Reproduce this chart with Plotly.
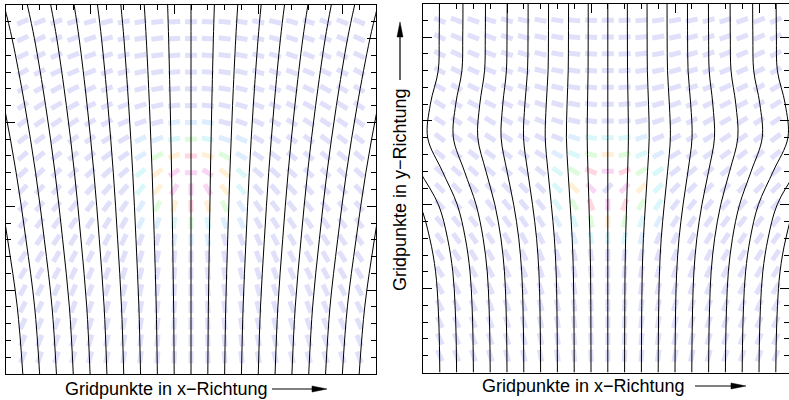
import math
import plotly.graph_objects as go

W, H = 789, 400

# ---------------- data ----------------
grid_pts = list(range(1, 22))          # grid points 1..21 (dash centres, line origins)
grid_max = 22

# left panel: singular point of the direction field, spread of the grid lines
left_singular = (11.0, 11.5)
left_center_x = 11.0
left_levels_y = [0, 4, 8, 12, 16, 20, 22]
left_spread = [0.0, 0.033, 0.09, 0.155, 0.235, 0.33, 0.39]
left_cubic = [0, 0, 0, 0, 0, 0, 0]

# right panel
right_singular = (11.0, 11.0)
right_center_x = 11.0
right_levels_y = [0, 2, 4, 6, 8, 10, 12, 14, 16, 18, 20, 22]
right_spread = [0.0, 0.003, 0.01, 0.025, 0.06, 0.12, 0.18, 0.225, 0.205, 0.172, 0.165, 0.163]
right_cubic = [0, 0, 0, 0, 0, 0, 0.0008, 0.0018, 0.0018, 0.0014, 0.0014, 0.0014]

# colour of the dashes by distance to the singular point
dist_bins = [1.2, 1.6, 2.1, 2.6, 3.2, 4.0, 99]
dist_colors = ['rgb(250,214,245)', 'rgb(255,214,225)', 'rgb(255,240,214)',
               'rgb(222,252,220)', 'rgb(218,248,250)', 'rgb(222,238,255)',
               'rgb(224,224,251)']
axis_title_x = "Gridpunkte in x\u2212Richtung"
axis_title_y = "Gridpunkte in y\u2212Richtung"

# ---------------- figure ----------------
fig = go.Figure()

DASH_LEN = 0.72


def add_dashes(singular, sign, xa, ya):
    sx, sy = singular
    groups = {c: ([], []) for c in dist_colors}
    for gx in grid_pts:
        for gy in grid_pts:
            u, v = gx - sx, gy - sy
            r = math.hypot(u, v)
            phi = math.atan2(v, u)
            th = sign * (phi - math.pi / 2) / 2
            dx = DASH_LEN / 2 * math.cos(th)
            dy = DASH_LEN / 2 * math.sin(th)
            if r < 0.01:
                col = dist_colors[-1]
            else:
                col = next(c for b, c in zip(dist_bins, dist_colors) if r < b)
            xs, ys = groups[col]
            xs += [gx - dx, gx + dx, None]
            ys += [gy - dy, gy + dy, None]
    for col, (xs, ys) in groups.items():
        if xs:
            fig.add_trace(go.Scatter(x=xs, y=ys, mode='lines', xaxis=xa, yaxis=ya,
                                     line=dict(color=col, width=5),
                                     hoverinfo='skip', showlegend=False))


def add_lines(levels, spread, cubic, cx, xa, ya):
    xs, ys = [], []
    for gi in grid_pts:
        o = gi - cx
        for y, a, b in zip(levels, spread, cubic):
            xs.append(gi + a * o + b * o ** 3)
            ys.append(y)
        xs.append(None)
        ys.append(None)
    fig.add_trace(go.Scatter(x=xs, y=ys, mode='lines', xaxis=xa, yaxis=ya,
                             line=dict(color='black', width=1.0, shape='spline', smoothing=1.0),
                             hoverinfo='skip', showlegend=False))


add_dashes(left_singular, +1, 'x', 'y')
add_lines(left_levels_y, left_spread, left_cubic, left_center_x, 'x', 'y')
add_dashes(right_singular, -1, 'x2', 'y2')
add_lines(right_levels_y, right_spread, right_cubic, right_center_x, 'x2', 'y2')


def px(x):
    return x / W


def py(y):
    return 1 - y / H


unit = 16.8
xaxis_common = dict(showgrid=False, zeroline=False, showticklabels=False,
                    showline=True, linecolor='black', linewidth=1.3, mirror=True,
                    side='top', ticks='inside', tickvals=[5, 10, 15, 20], ticklen=9,
                    tickcolor='black', tickwidth=1,
                    minor=dict(ticks='inside', dtick=1, ticklen=5, tickcolor='black', tickwidth=1))
yaxis_common = dict(showgrid=False, zeroline=False, showticklabels=False,
                    showline=True, linecolor='black', linewidth=1.3, mirror='ticks',
                    ticks='inside', tickvals=[5, 10, 15, 20], ticklen=9,
                    tickcolor='black', tickwidth=1, range=[0, grid_max],
                    minor=dict(ticks='inside', dtick=1, ticklen=5, tickcolor='black', tickwidth=1))

fig.update_layout(
    width=W, height=H, margin=dict(l=0, r=0, t=0, b=0),
    paper_bgcolor='white', plot_bgcolor='white',
    xaxis=dict(domain=[px(6), px(376)], range=[0, grid_max], anchor='y', **xaxis_common),
    yaxis=dict(domain=[py(374), py(5)], anchor='x', **yaxis_common),
    xaxis2=dict(domain=[px(423), 1.0], range=[0, (W - 423) / unit], anchor='y2', **xaxis_common),
    yaxis2=dict(domain=[py(372.5), py(3.5)], anchor='x2', **yaxis_common),
    font=dict(family='Liberation Sans, Arial, sans-serif', color='black'),
)

font = dict(family='Liberation Sans, Arial, sans-serif', size=18, color='black')
fig.add_annotation(text=axis_title_x, xref='paper', yref='paper', x=px(166), y=py(389),
                   xanchor='center', yanchor='middle', showarrow=False, font=font)
fig.add_annotation(text=axis_title_x, xref='paper', yref='paper', x=px(583.5), y=py(386),
                   xanchor='center', yanchor='middle', showarrow=False, font=font)
fig.add_annotation(text=axis_title_y, xref='paper', yref='paper', x=px(400), y=py(190),
                   xanchor='center', yanchor='middle', showarrow=False, font=font, textangle=-90)


def h_arrow(x0, x1, y):
    fig.add_shape(type='line', xref='paper', yref='paper', x0=px(x0), x1=px(x1 - 12), y0=py(y), y1=py(y),
                  line=dict(color='black', width=1.2))
    path = 'M{},{} L{},{} L{},{} Z'.format(px(x1), py(y), px(x1 - 15), py(y - 3), px(x1 - 15), py(y + 3))
    fig.add_shape(type='path', xref='paper', yref='paper', path=path,
                  fillcolor='black', line=dict(color='black', width=0.5))


def v_arrow(x, y0, y1):
    fig.add_shape(type='line', xref='paper', yref='paper', x0=px(x), x1=px(x), y0=py(y0), y1=py(y1 + 12),
                  line=dict(color='black', width=1.2))
    path = 'M{},{} L{},{} L{},{} Z'.format(px(x), py(y1), px(x - 3), py(y1 + 15), px(x + 3), py(y1 + 15))
    fig.add_shape(type='path', xref='paper', yref='paper', path=path,
                  fillcolor='black', line=dict(color='black', width=0.5))


h_arrow(272, 327, 389)
h_arrow(695, 746, 386)
v_arrow(400, 80, 22)

fig.write_html("out.html")
